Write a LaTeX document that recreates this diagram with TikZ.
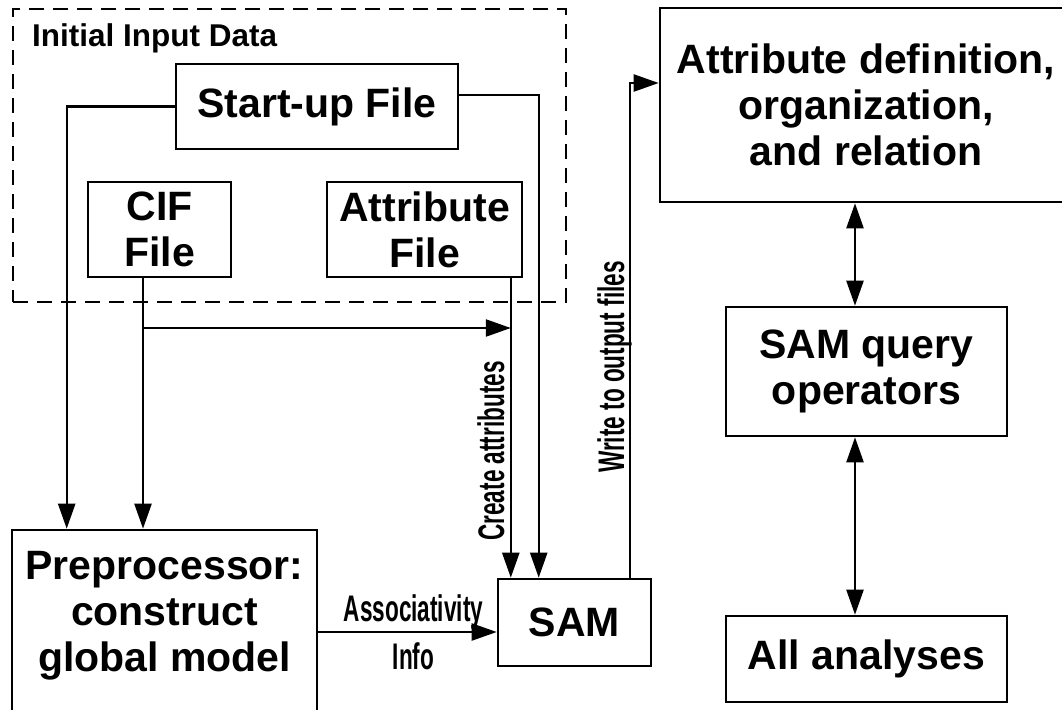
\documentclass[tikz,border=0pt]{standalone}
\usepackage{fontspec}
\setmainfont{Liberation Sans}
\newfontfamily\narrowfont[FakeStretch=0.61]{Liberation Sans}
\usetikzlibrary{arrows.meta}

\newcommand\diagboxfont{\fontsize{41}{46}\selectfont\bfseries}
\newcommand\diaglabelfont{\narrowfont\fontsize{37}{40}\selectfont\bfseries}

\begin{document}
\begin{tikzpicture}[x=1pt,y=-1pt,
  box/.style={draw, line width=2.6pt, inner sep=0pt, align=center, font=\diagboxfont},
  boxtext/.style={inner sep=0pt, align=center, font=\diagboxfont},
  frame/.style={draw, line width=2.6pt, dash pattern=on 15pt off 9pt, inner sep=0pt},
  lbl/.style={inner sep=0pt, font=\diaglabelfont},
  arr/.style={line width=2.3pt, -{Triangle[length=25pt,width=17pt]}},
  darr/.style={line width=2.3pt, {Triangle[length=25pt,width=17pt]}-{Triangle[length=25pt,width=17pt]}}
]
\useasboundingbox (0,0) rectangle (1062,709);
\clip (0,0) rectangle (1062,709);

% input data group
\node[frame, minimum width=553pt, minimum height=293pt] (input) at (289.5,155.5) {};
\node[anchor=base west, inner sep=0pt, font=\fontsize{31.5}{34}\selectfont\bfseries] (title) at (32,47) {Initial Input Data};

% boxes
\node[box, minimum width=282pt, minimum height=85pt] (start) at (317,106.5) {Start-up File};
\node[box, minimum width=143pt, minimum height=95pt] (cif) at (159.5,229.5) {CIF\\File};
\node[box, minimum width=195pt, minimum height=95pt] (attr) at (424.5,229.5) {Attribute\\File};
\node[box, minimum width=305pt, minimum height=185pt] (pre) at (164.5,622.5) {};
\node[boxtext] (pretext) at (164.5,616) {Preprocessor:\\construct\\global model};
\node[box, minimum width=153pt, minimum height=87pt] (sam) at (574.5,622.5) {SAM};
\node[box, minimum width=412pt, minimum height=194pt] (def) at (866,105) {Attribute definition,\\organization,\\and relation};
\node[box, minimum width=281pt, minimum height=129pt] (query) at (866.5,371.5) {SAM query\\operators};
\node[box, minimum width=281pt, minimum height=86pt] (all) at (866.5,659) {All analyses};

% connection points
\coordinate (cifout) at ([xshift=-16.5pt]cif.south);
\coordinate (attrout) at ([xshift=-12.5pt]attr.south east);
\coordinate (branch) at (cifout |- 0,328);

% flows into the preprocessor and SAM
\draw[arr] (start.west) -| ([xshift=56pt]pre.north west);
\draw[arr] (cifout) -- (cifout |- pre.north);
\draw[arr] (branch) -- (branch -| attrout);
\draw[arr] (attrout) -- (attrout |- sam.north);
\draw[arr] ([yshift=11.5pt]start.east) -| ([xshift=42pt]sam.north west);
\draw[arr] ([yshift=-9.5pt]sam.west -| pre.east) -- ([yshift=-9.5pt]sam.west);
\draw[arr] ([xshift=-22pt]sam.north east) |- ([yshift=22pt]def.west);

% two-way links on the right
\draw[darr] ([xshift=-11pt]def.south) -- ([xshift=-11pt]def.south |- query.north);
\draw[darr] ([xshift=-11.5pt]query.south) -- ([xshift=-11.5pt]query.south |- all.north);

% connector labels
\node[lbl, anchor=base] (assoc) at (413.5,621) {Associativity};
\node[lbl, anchor=base] (info) at (413.5,669) {Info};
\node[lbl, rotate=90, anchor=base] (create) at (504,451) {Create attributes};
\node[lbl, rotate=90, anchor=base] (write) at (624,367) {Write to output files};
\end{tikzpicture}
\end{document}
